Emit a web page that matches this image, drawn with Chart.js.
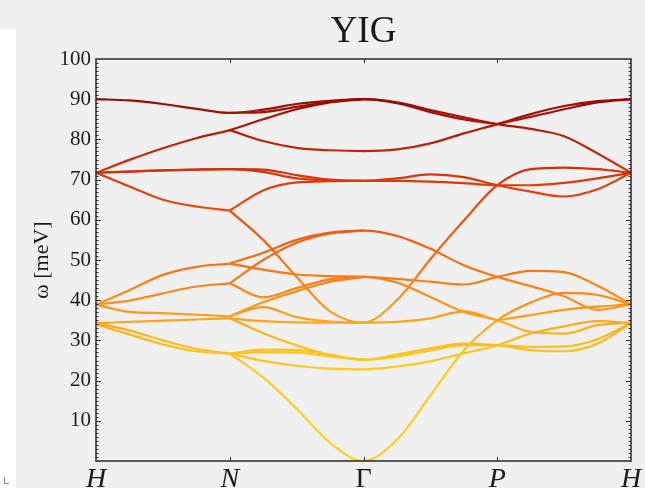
<!DOCTYPE html>
<html>
<head>
<meta charset="utf-8">
<script src="https://cdn.jsdelivr.net/npm/chart.js@4.4.1/dist/chart.umd.min.js"></script>
<style>
  html, body { margin: 0; padding: 0; background: #f0f0f0; }
  #wrap { width: 645px; height: 488px; }
</style>
</head>
<body>
<div id="wrap"><canvas id="chart" width="645" height="488"></canvas></div>
<script>
// path through the zone: H - N - Gamma - P - H, sampled every quarter segment
const kPos = [0, 0.25, 0.5, 0.75, 1, 1.25, 1.5, 1.75, 2, 2.25, 2.5, 2.75, 3, 3.25, 3.5, 3.75, 4];
const kTicks = [0, 1, 2, 3, 4];
const kLabels = ['H', 'N', 'Γ', 'P', 'H'];
const yTicks = [10, 20, 30, 40, 50, 60, 70, 80, 90, 100];

const _ = null;
// magnon branches, omega in meV, null = branch not drawn there
const branches = [
  [90, 89.7, 88.8, 87.6, 86.6, 87.4, 88.8, 89.6, 90, 89.2, 87.3, 85.5, 83.8, 82.6, 80.8, 76.5, 71.7],
  [_, _, _, _, 86.6, 86.8, 88.1, 89.3, 90, 89.0, 86.8, 85.0, 83.8, _, _, _, _],
  [71.7, 74.9, 77.8, 80.3, 82.3, 85.0, 87.5, 89.2, 90, _, _, _, _, _, _, _, _],
  [_, _, _, _, 82.3, 79.6, 77.9, 77.3, 77.1, 77.5, 79.0, 81.5, 83.8, 86.3, 88.3, 89.5, 90],
  [_, _, _, _, _, _, _, _, _, _, _, _, 83.8, 85.6, 87.5, 89.2, 90],
  [71.7, 72.0, 72.3, 72.5, 72.6, 72.5, 71.1, 70.0, 69.7, 70.3, 71.3, 70.6, 68.6, 67.0, 65.8, 67.6, 71.7],
  [71.7, 72.0, 72.3, 72.5, 72.6, 71.9, 70.3, 69.8, 69.7, 69.7, 69.5, 69.1, 68.6, 68.6, 69.2, 70.3, 71.7],
  [71.7, 68.3, 65.0, 63.3, 62.3, _, _, _, _, _, _, _, _, _, _, _, _],
  [_, _, _, _, 62.3, 55.0, 45.8, 37.2, 34.4, 40.0, 50.2, 59.8, 68.6, 72.6, 73.0, 72.6, 71.7],
  [_, _, _, _, 62.3, 67.3, 69.3, 69.6, 69.7, _, _, _, _, _, _, _, _],
  [38.9, 42.5, 46.3, 48.3, 49.1, _, _, _, _, _, _, _, _, _, _, _, _],
  [_, _, _, _, 49.1, 51.8, 55.0, 56.8, 57.3, 56.0, 52.8, 48.7, 45.8, 43.5, 41.0, 37.6, 39.0],
  [_, _, _, _, 49.1, 47.6, 46.4, 46.0, 45.8, 45.3, 44.6, 43.9, 45.8, 47.3, 47.0, 43.6, 39.0],
  [38.9, 39.9, 41.7, 43.4, 44.2, _, _, _, _, _, _, _, _, _, _, _, _],
  [_, _, _, _, 44.2, 50.0, 54.3, 56.6, 57.3, _, _, _, _, _, _, _, _],
  [_, _, _, _, 44.2, 40.7, 43.0, 45.2, 45.8, 44.4, 40.8, 37.1, 35.0, 32.1, 31.7, 33.8, 34.5],
  [38.9, 37.1, 36.8, 36.4, 36.0, _, _, _, _, _, _, _, _, _, _, _, _],
  [_, _, _, _, 36.0, 38.3, 35.8, 34.7, 34.4, 34.6, 35.5, 37.2, 35.0, _, _, _, _],
  [_, _, _, _, 36.0, 39.5, 42.2, 44.6, 45.8, _, _, _, _, _, _, _, _],
  [34.3, 34.6, 34.9, 35.2, 35.5, _, _, _, _, _, _, _, _, _, _, _, _],
  [_, _, _, _, 35.5, 34.8, 34.5, 34.4, 34.4, _, _, _, _, _, _, _, _],
  [_, _, _, _, 35.5, 31.8, 28.8, 26.3, 25.2, 26.5, 28.0, 29.2, 28.8, 27.6, 27.3, 29.2, 34.3],
  [_, _, _, _, 26.7, 27.7, 27.6, 26.5, 25.2, 26.0, 27.5, 28.8, 28.8, 28.4, 28.5, 30.3, 34.3],
  [_, _, _, _, 26.7, 27.1, 27.0, 26.0, 25.2, _, _, _, _, _, _, _, _],
  [_, _, _, _, 26.7, 24.9, 23.7, 23.0, 22.8, 23.5, 24.8, 26.8, 28.8, 31.7, 33.5, 34.8, 34.3],
  [_, _, _, _, 26.7, 20.8, 13.0, 4.5, 0, 5.3, 16.3, 27.5, 35.0, 39.4, 41.8, 41.3, 39.0],
  [34.3, 32.5, 30.0, 27.9, 26.7, _, _, _, _, _, _, _, _, _, _, _, _],
  [34.0, 31.5, 29.0, 27.3, 26.7, _, _, _, _, _, _, _, _, _, _, _, _],
  [_, _, _, _, _, _, _, _, _, _, _, _, 35.0, 36.3, 37.6, 38.4, 39.0]
];

// colour by energy, yellow at the bottom to dark red at the top
const colorStops = [
  [0.00, '#ffd21e'], [0.22, '#ffcb1e'], [0.28, '#ffc01c'], [0.33, '#ffb01b'],
  [0.36, '#ffa01a'], [0.40, '#ff8e16'], [0.46, '#ff7a12'], [0.50, '#fb6a10'],
  [0.57, '#f25a0c'], [0.62, '#ec4c0a'], [0.70, '#dc3808'], [0.77, '#c42606'],
  [0.83, '#b01804'], [0.90, '#980802'], [1.00, '#880000']
];

let grad = null;
function bandColor(ctx) {
  const chart = ctx.chart;
  if (!chart.chartArea) return '#ff8000';
  if (!grad) {
    const y = chart.scales.y;
    grad = chart.ctx.createLinearGradient(0, y.getPixelForValue(0), 0, y.getPixelForValue(100));
    colorStops.forEach(s => grad.addColorStop(s[0], s[1]));
  }
  return grad;
}

const serif = "'Liberation Serif', 'Times New Roman', serif";

const framePlugin = {
  id: 'framePlugin',
  beforeDraw(chart) {
    const c = chart.ctx;
    c.save();
    c.fillStyle = '#f0f0f0';
    c.fillRect(0, 0, chart.width, chart.height);
    c.fillStyle = '#ffffff';
    c.fillRect(0, 29, 16, chart.height - 29);
    c.strokeStyle = '#8a8a8a';
    c.lineWidth = 1;
    c.beginPath();
    c.moveTo(4.5, 477); c.lineTo(4.5, 483.5); c.lineTo(9, 483.5);
    c.stroke();
    // title
    const a = chart.chartArea;
    c.fillStyle = '#1a1a1a';
    c.font = '37px ' + serif;
    c.textAlign = 'center';
    c.textBaseline = 'alphabetic';
    c.fillText('YIG', (a.left + a.right) / 2, 42);
    c.restore();
  },
  afterDraw(chart) {
    const c = chart.ctx;
    const a = chart.chartArea;
    const y = chart.scales.y;
    const x = chart.scales.x;
    c.save();
    c.strokeStyle = '#2e2e2e';
    c.lineWidth = 1;
    c.beginPath();
    for (let v = 1; v < 100; v++) {
      const py = Math.round(y.getPixelForValue(v)) + 0.5;
      const len = v % 10 === 0 ? 5 : 2.5;
      c.moveTo(a.left, py); c.lineTo(a.left + len, py);
      c.moveTo(a.right, py); c.lineTo(a.right - len, py);
    }
    kTicks.slice(1, -1).forEach(k => {
      const px = Math.round(x.getPixelForValue(k)) + 0.5;
      c.moveTo(px, a.top); c.lineTo(px, a.top + 4);
      c.moveTo(px, a.bottom); c.lineTo(px, a.bottom - 4);
    });
    c.stroke();
    c.lineWidth = 1.6;
    c.strokeStyle = '#333333';
    c.strokeRect(a.left, a.top, a.right - a.left, a.bottom - a.top);
    c.restore();
  }
};

const datasets = branches.map((row, n) => ({
  label: 'band ' + n,
  data: kPos.map((k, i) => ({ x: k, y: row[i] })).filter(p => p.y !== null),
  borderColor: bandColor,
  borderWidth: 2.2,
  pointRadius: 0,
  fill: false,
  cubicInterpolationMode: 'monotone'
}));

new Chart(document.getElementById('chart'), {
  type: 'line',
  data: { datasets: datasets },
  options: {
    responsive: false,
    animation: false,
    events: [],
    layout: { padding: { left: 0, right: 14, top: 59, bottom: 0 } },
    plugins: { legend: { display: false }, tooltip: { enabled: false }, title: { display: false } },
    scales: {
      x: {
        type: 'linear',
        min: 0,
        max: 4,
        grid: { display: false, drawTicks: false, tickLength: 0 },
        border: { display: false },
        afterBuildTicks: s => { s.ticks = kTicks.map(v => ({ value: v })); },
        afterFit: s => { s.height = 27; },
        ticks: {
          autoSkip: false,
          maxRotation: 0,
          padding: 2,
          color: '#1a1a1a',
          font: ctx => ({ family: serif, size: 28, style: ctx.tick && ctx.tick.value === 2 ? 'normal' : 'italic' }),
          callback: (v, i) => kLabels[i]
        }
      },
      y: {
        min: 0,
        max: 100,
        grid: { display: false, drawTicks: false, tickLength: 0 },
        border: { display: false },
        afterBuildTicks: s => { s.ticks = yTicks.map(v => ({ value: v })); },
        afterFit: s => { s.width = 96; },
        ticks: { padding: 5, color: '#1a1a1a', font: { family: serif, size: 21 } },
        title: { display: true, text: 'ω [meV]', color: '#1a1a1a', font: { family: serif, size: 22 }, padding: { top: 29, bottom: 0 } }
      }
    }
  },
  plugins: [framePlugin]
});
</script>
</body>
</html>
